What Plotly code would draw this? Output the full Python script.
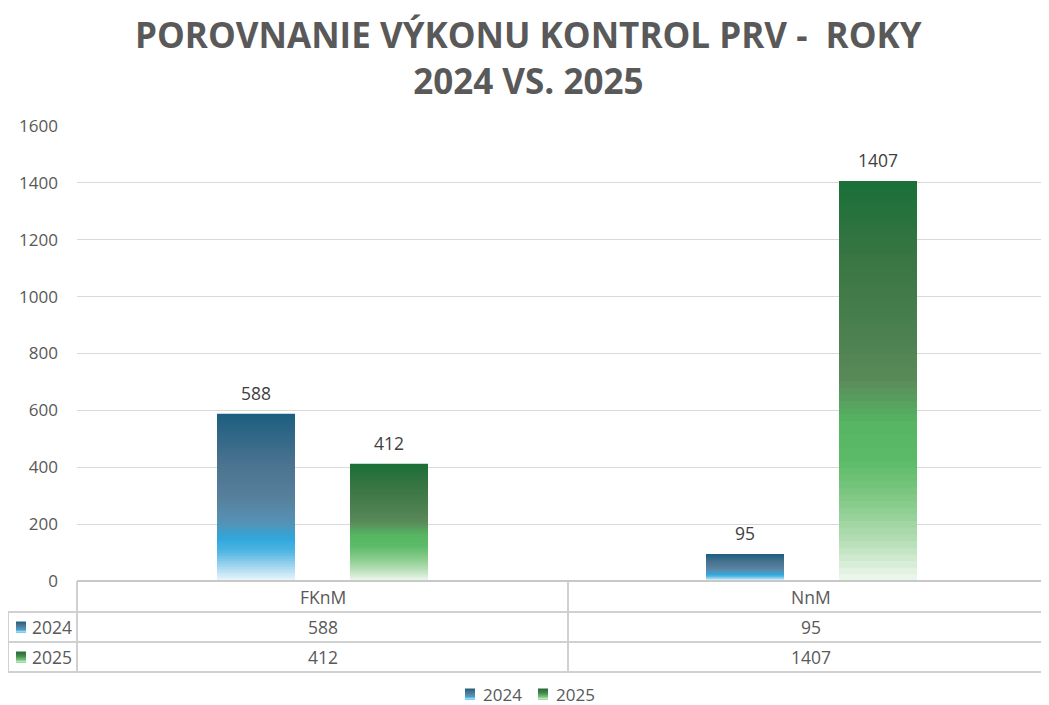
import plotly.graph_objects as go

# ---- data ----
categories = ["FKnM", "NnM"]
series_names = ["2024", "2025"]
values_2024 = [588, 95]
values_2025 = [412, 1407]
y_ticks = [0, 200, 400, 600, 800, 1000, 1200, 1400, 1600]
title_text = "<b>POROVNANIE VÝKONU KONTROL PRV -  ROKY<br>2024 VS. 2025</b>"

# ---- style ----
FONT = "Open Sans"
TXT = "#595959"
GRID = "#d9d9d9"
TBL = "#d0d0d0"

stops_2024 = [(0.00, "#eef7fc"), (0.08, "#a8d8f0"), (0.18, "#4fb4e2"), (0.25, "#30a8dc"),
              (0.35, "#5592b5"), (0.50, "#57809c"), (0.70, "#4a7390"), (1.00, "#1d5e80")]
stops_2025 = [(0.00, "#f0f8f0"), (0.10, "#b5deb6"), (0.20, "#84ca88"), (0.30, "#5cbb68"),
              (0.40, "#55b562"), (0.50, "#5a8a5a"), (0.60, "#4e8152"), (0.80, "#3a7644"),
              (1.00, "#1a6f38")]


def hex2rgb(h):
    h = h.lstrip("#")
    return [int(h[i:i + 2], 16) for i in (0, 2, 4)]


def grad(stops, f):
    for (f0, c0), (f1, c1) in zip(stops[:-1], stops[1:]):
        if f0 <= f <= f1:
            t = (f - f0) / (f1 - f0) if f1 > f0 else 0
            a, b = hex2rgb(c0), hex2rgb(c1)
            r = [round(a[i] + (b[i] - a[i]) * t) for i in range(3)]
            return "rgb(%d,%d,%d)" % tuple(r)
    return stops[-1][1]


# page has an 8px body margin: figure origin sits at (8, 8) of the window
OX, OY = 8, 8
FIG_W, FIG_H = 1049 - OX, 705 - OY
ML, MT = 77 - OX, 126 - OY
PLOT_W = FIG_W - ML
PLOT_H = 455.0
MB = FIG_H - MT - PLOT_H
C0_PX, UNIT = 322.5, 489.0        # window px of first category centre, px per category
X_LO = -(C0_PX - 77) / UNIT
X_HI = X_LO + PLOT_W / UNIT
BAR_W = 78 / UNIT
GROUP_OFF = 66.5 / UNIT           # bar centre offset from category centre
N = 60

xs = list(range(len(categories)))
fig = go.Figure()
series = [(series_names[0], values_2024, stops_2024, -GROUP_OFF),
          (series_names[1], values_2025, stops_2025, GROUP_OFF)]
for name, vals, stops, dc in series:
    for k in range(N):
        f_top = 1 - k / N
        f_mid = f_top - 0.5 / N
        fig.add_trace(go.Bar(
            x=[x + dc for x in xs],
            y=[v * f_top for v in vals],
            width=BAR_W,
            name=name,
            showlegend=False,
            marker=dict(color=grad(stops, f_mid), line=dict(width=0)),
            hoverinfo="skip",
        ))

fig.update_layout(
    width=FIG_W, height=FIG_H,
    margin=dict(l=ML, r=0, t=MT, b=MB, autoexpand=False),
    paper_bgcolor="white", plot_bgcolor="white",
    barmode="overlay",
    font=dict(family=FONT, color=TXT, size=16),
    showlegend=False,
    xaxis=dict(range=[X_LO, X_HI], showticklabels=False, showgrid=False,
               zeroline=False, showline=False, fixedrange=True, automargin=False),
    yaxis=dict(range=[0, 1600], tickvals=y_ticks, showgrid=True, gridcolor=GRID,
               gridwidth=1, zeroline=False, showline=False, ticks="",
               ticklabelstandoff=18, automargin=False,
               tickfont=dict(family=FONT, size=17, color=TXT)),
)


def py(pix):  # pixel offset below plot bottom -> paper y
    return -pix / PLOT_H


def pyabs(pix):  # absolute window pixel y -> paper y
    return 1 - (pix - OY - MT) / PLOT_H


def pxx(pix):  # absolute window pixel x -> paper x
    return (pix - OX - ML) / PLOT_W


def cat_paper(i):  # category centre -> paper x
    return (i - X_LO) / (X_HI - X_LO)


annotations = [dict(text=title_text, x=pxx(528), y=pyabs(57.5), xref="paper", yref="paper",
                    xanchor="center", yanchor="middle", showarrow=False,
                    font=dict(family=FONT, size=35, color=TXT))]

# value labels above bars
for name, vals, stops, dc in series:
    for x, v in zip(xs, vals):
        annotations.append(dict(text=str(v), x=x + dc, y=v, xref="x", yref="y",
                                xanchor="center", yanchor="middle", yshift=20.5,
                                showarrow=False,
                                font=dict(family=FONT, size=17.5, color="#404040")))

# ---- data table below the plot ----
xl = pxx(8)
xmid = pxx(568)
shapes = []
line = dict(color=TBL, width=2)
shapes.append(dict(type="line", xref="paper", yref="paper", x0=0, x1=1, y0=0, y1=0,
                   line=dict(color="#c8c8c8", width=2)))
for p in [31, 61, 91]:
    shapes.append(dict(type="line", xref="paper", yref="paper", x0=xl, x1=1,
                       y0=py(p), y1=py(p), line=line))
shapes.append(dict(type="line", xref="paper", yref="paper", x0=0, x1=0, y0=0, y1=py(91), line=line))
shapes.append(dict(type="line", xref="paper", yref="paper", x0=xmid, x1=xmid, y0=0, y1=py(91), line=line))
shapes.append(dict(type="line", xref="paper", yref="paper", x0=xl, x1=xl, y0=py(31), y1=py(91), line=line))


def swatch(x0px, yfn, stops):
    # gradient key: overlapping rects, each reaching the bottom, so no seams
    S = 10
    for s in range(S):
        f_top = 1 - s / S
        shapes.append(dict(type="rect", xref="paper", yref="paper",
                           x0=pxx(x0px), x1=pxx(x0px + 10),
                           y0=yfn(5.5), y1=yfn(5.5 - 11 * f_top),
                           fillcolor=grad(stops, f_top - 0.5 / S), line=dict(width=0)))


for row_c, stops in [(46, stops_2024), (76, stops_2025)]:
    swatch(16, lambda d, rc=row_c: py(rc + d), stops)

cat_x = [cat_paper(i) for i in xs]
for cx, c in zip(cat_x, categories):
    annotations.append(dict(text=c, x=cx, y=py(15.5), xref="paper", yref="paper",
                            xanchor="center", yanchor="middle",
                            showarrow=False, font=dict(family=FONT, size=17.5, color=TXT)))
for row_c, name, vals in [(46, series_names[0], values_2024), (76, series_names[1], values_2025)]:
    annotations.append(dict(text=name, x=pxx(30), y=py(row_c), xref="paper", yref="paper",
                            xanchor="left", yanchor="middle", showarrow=False,
                            font=dict(family=FONT, size=17.5, color=TXT)))
    for cx, v in zip(cat_x, vals):
        annotations.append(dict(text=str(v), x=cx, y=py(row_c), xref="paper", yref="paper",
                                xanchor="center", yanchor="middle",
                                showarrow=False, font=dict(family=FONT, size=17.5, color=TXT)))

# ---- bottom legend ----
LEG_Y = 694
for x_sw, name, stops in [(465, series_names[0], stops_2024), (538, series_names[1], stops_2025)]:
    swatch(x_sw, lambda d: pyabs(LEG_Y + d), stops)
    annotations.append(dict(text=name, x=pxx(x_sw + 16), y=pyabs(LEG_Y), xref="paper", yref="paper",
                            xanchor="left", yanchor="middle", showarrow=False,
                            font=dict(family=FONT, size=17, color=TXT)))

fig.update_layout(shapes=shapes, annotations=annotations)
fig.write_html("out.html")
